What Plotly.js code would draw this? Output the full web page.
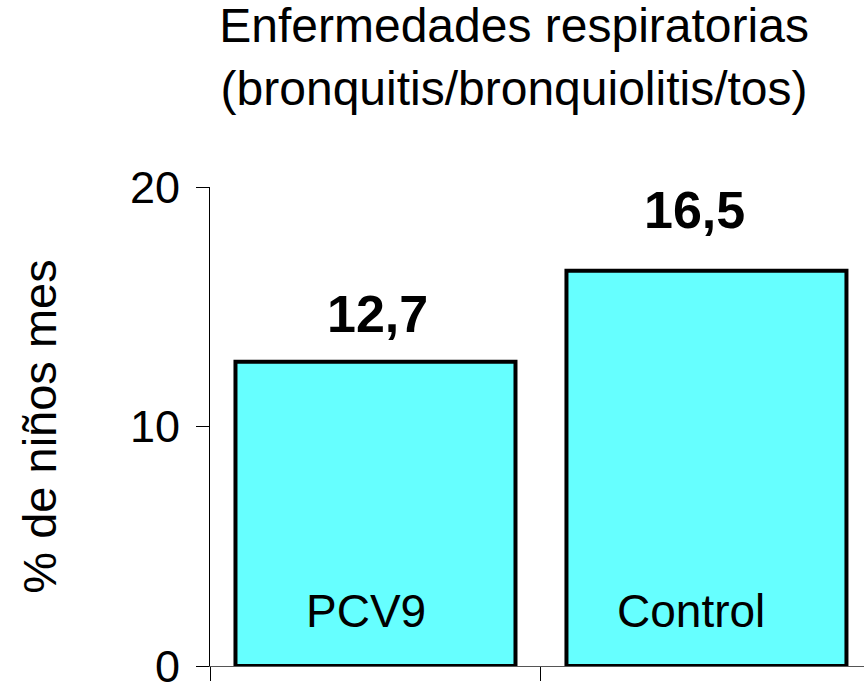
<!DOCTYPE html>
<html>
<head>
<meta charset="utf-8">
<script src="https://cdn.plot.ly/plotly-3.0.1.min.js"></script>
<style>
  html, body { margin: 0; padding: 0; background: #fff; }
  #chart { width: 864px; height: 683px; }
</style>
</head>
<body>
<div id="chart"></div>
<script>
  // grupos y valores (% de niños mes)
  var grupos = ["PCV9", "Control"];
  var valores = [12.7, 16.5];
  var etiquetas = ["12,7", "16,5"];
  var yTicks = [0, 10, 20];

  var fuente = "Liberation Sans, Arial, sans-serif";

  // pequeños ajustes de posición de los textos
  var desplValor = [{ x: 2, y: 17 }, { x: -12, y: 30 }];
  var desplGrupo = [-9, -15];

  var barras = {
    type: "bar",
    x: grupos,
    y: valores,
    width: 0.846,
    marker: {
      color: "#66FFFF",
      line: { color: "#000000", width: 4 }
    },
    hoverinfo: "none"
  };

  var notas = [];
  for (var i = 0; i < grupos.length; i++) {
    // valor encima de la barra
    notas.push({
      x: grupos[i], y: valores[i], xref: "x", yref: "y",
      text: "<b>" + etiquetas[i] + "</b>",
      showarrow: false, yanchor: "bottom",
      xshift: desplValor[i].x, yshift: desplValor[i].y,
      font: { family: fuente, size: 52, color: "#000" }
    });
    // nombre del grupo dentro de la barra
    notas.push({
      x: grupos[i], y: 0, xref: "x", yref: "y",
      text: grupos[i],
      showarrow: false, yanchor: "bottom",
      xshift: desplGrupo[i], yshift: 27,
      font: { family: fuente, size: 46, color: "#000" }
    });
  }

  var layout = {
    width: 864,
    height: 683,
    margin: { l: 210, r: 0, t: 187, b: 17 },
    paper_bgcolor: "#fff",
    plot_bgcolor: "#fff",
    showlegend: false,
    bargap: 0,
    font: { family: fuente, color: "#000" },
    title: {
      text: "Enfermedades respiratorias<br>(bronquitis/bronquiolitis/tos)",
      x: 0.595, xanchor: "center", xref: "container",
      y: 0.938, yanchor: "middle", yref: "container",
      font: { family: fuente, size: 48, color: "#000" }
    },
    xaxis: {
      type: "category",
      range: [-0.5, 1.476],
      showgrid: false,
      zeroline: false,
      showline: true,
      linecolor: "#555",
      linewidth: 1,
      ticks: "outside",
      tickson: "boundaries",
      ticklen: 14,
      tickcolor: "#000",
      showticklabels: false
    },
    yaxis: {
      range: [0, 20],
      tickvals: yTicks,
      ticktext: yTicks.map(String),
      showgrid: false,
      zeroline: false,
      showline: true,
      linecolor: "#000",
      linewidth: 1,
      ticks: "outside",
      ticklen: 13,
      tickcolor: "#000",
      ticklabelstandoff: 7,
      ticklabeloverflow: "allow",
      tickfont: { family: fuente, size: 45, color: "#000" },
      title: {
        text: "% de niños mes",
        standoff: 58,
        font: { family: fuente, size: 47, color: "#000" }
      }
    },
    annotations: notas
  };

  Plotly.newPlot("chart", [barras], layout, { displayModeBar: false, staticPlot: true });
</script>
</body>
</html>
